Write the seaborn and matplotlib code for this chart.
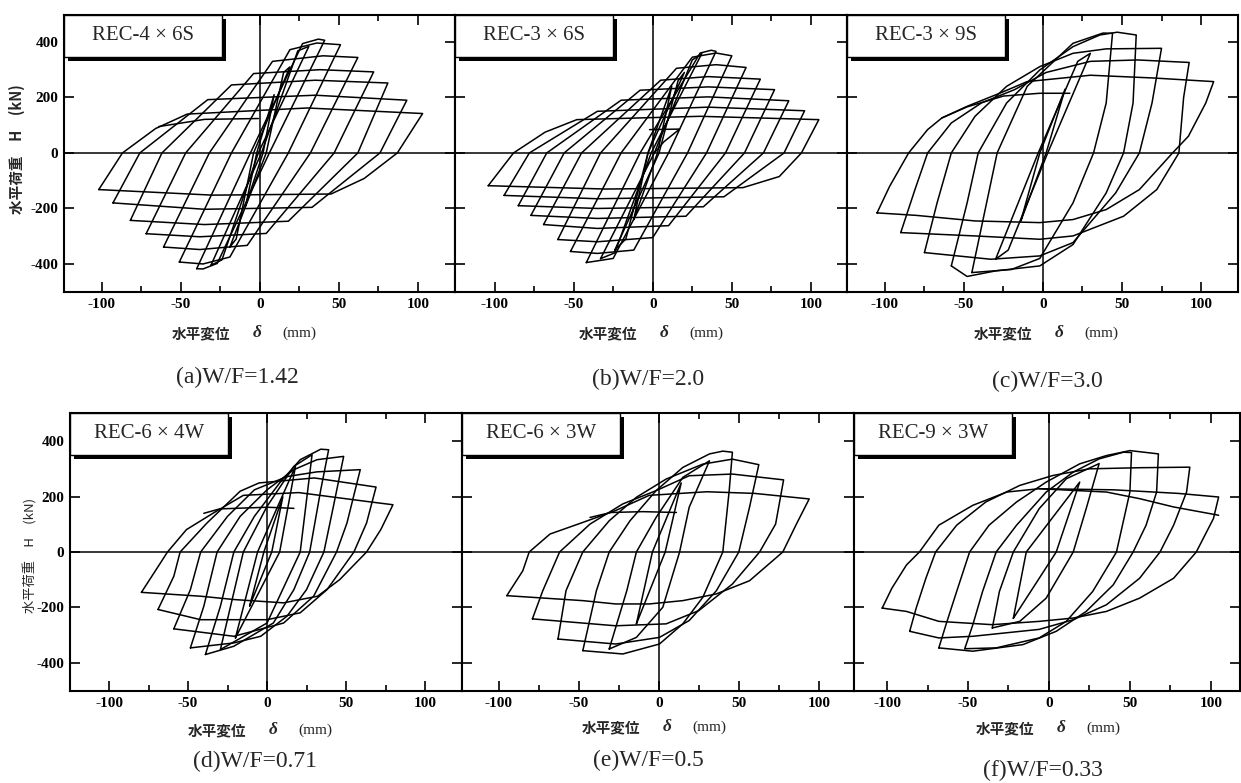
import matplotlib
matplotlib.use("Agg")
import matplotlib.pyplot as plt
import matplotlib.patheffects as pe
from matplotlib.patches import Rectangle
import pandas as pd
import seaborn as sns

# ---------------- data ----------------
# each cycle: list of (displacement mm, load kN) vertices of the loop
cycles_a = [
    [(-102,-132),(-87,0),(-66,88),(-46,140),(30,162),(103,142),(87,0),(66,-92),(45,-148),(-30,-152),(-102,-132)],
    [(-93,-180),(-76,0),(-33,192),(35,208),(93,190),(76,0),(33,-196),(-35,-203),(-93,-180)],
    [(-82,-243),(-62,0),(-18,245),(35,262),(81,252),(62,0),(18,-246),(-35,-258),(-82,-243)],
    [(-72,-291),(-47,0),(-4,286),(38,300),(72,292),(47,0),(4,-290),(-38,-302),(-72,-291)],
    [(-61,-339),(-32,0),(8,330),(40,350),(62,344),(32,0),(-8,-333),(-38,-348),(-61,-339)],
    [(-51,-393),(-18,0),(19,372),(36,396),(51,390),(18,0),(-19,-375),(-36,-400),(-51,-393)],
    [(-40,-417),(-6,0),(27,394),(37,410),(41,406),(6,0),(-27,-398),(-36,-418),(-40,-417)],
    [(-31,-405),(1,0),(24,368),(31,384),(-1,0),(-24,-385),(-31,-405)],
    [(-19,-339),(4,0),(15,290),(19,310),(-4,0),(-15,-310),(-19,-339)],
    [(-9,-190),(2,0),(9,210),(-2,0),(-9,-190)],
    [(-64,95),(-35,121),(-1,124)],
]
cycles_b = [
    [(-104,-118),(-88,0),(-68,75),(-48,120),(30,132),(105,120),(94,0),(80,-85),(57,-125),(-30,-130),(-104,-118)],
    [(-94,-153),(-78,0),(-35,150),(35,165),(96,152),(83,0),(45,-158),(-35,-165),(-94,-153)],
    [(-85,-190),(-67,0),(-20,190),(35,202),(86,188),(70,0),(32,-194),(-35,-200),(-85,-190)],
    [(-77,-225),(-56,0),(-8,226),(35,238),(77,228),(58,0),(21,-228),(-35,-236),(-77,-225)],
    [(-69,-258),(-45,0),(5,262),(35,275),(68,266),(46,0),(10,-262),(-35,-272),(-69,-258)],
    [(-60,-312),(-33,0),(15,305),(40,318),(59,308),(34,0),(0,-305),(-35,-320),(-60,-312)],
    [(-52,-355),(-20,0),(25,345),(40,360),(50,350),(22,0),(-12,-350),(-35,-362),(-52,-355)],
    [(-42,-395),(-8,0),(30,360),(37,370),(40,366),(10,0),(-25,-380),(-42,-395)],
    [(-33,-381),(1,0),(25,335),(31,358),(-1,0),(-24,-360),(-33,-381)],
    [(-24,-350),(4,0),(16,260),(20,290),(-3,0),(-17,-310),(-24,-350)],
    [(-12,-240),(3,0),(12,240),(-3,0),(-12,-240)],
    [(-2,84),(17,86),(7,40),(1,0)],
]
cycles_c = [
    [(-105,-216),(-97,-120),(-85,0),(-73,84),(-64,126),(-48,168),(-27,216),(-10,257),(30,280),(70,270),(108,257),
     (103,180),(92,60),(82,0),(61,-132),(40,-204),(19,-240),(-2,-251),(-43,-245),(-80,-225),(-105,-216)],
    [(-90,-287),(-81,-132),(-73,0),(-58,108),(-39,180),(-18,228),(2,290),(30,330),(60,335),(92.5,326),
     (89,200),(86,0),(72,-132),(51,-228),(19,-299),(-2,-311),(-43,-299),(-90,-287)],
    [(-75,-359),(-67,-180),(-58,0),(-43,132),(-23,240),(-2,311),(19,359),(40,375),(75,377),
     (69,180),(61,0),(46,-144),(19,-323),(-2,-371),(-33,-383),(-75,-359)],
    [(-58,-407),(-48,-180),(-41,0),(-23,180),(-2,299),(19,383),(36,425),(47,435),(59,425),
     (57,180),(51,0),(40,-144),(19,-330),(-2,-407),(-30,-425),(-48,-445),(-58,-407)],
    [(-45,-431),(-29,0),(-10,240),(19,395),(38,432),(44,431),(40,180),(32,0),(19,-180),(-2,-380),(-20,-420),(-45,-431)],
    [(-30,-383),(-3,0),(22,330),(30,359),(3,0),(-22,-350),(-30,-383)],
    [(-14,-245),(2,0),(14,230),(-2,0),(-14,-245)],
    [(-64,126),(-48,166),(-25,205),(-2,215),(17,215)],
]
cycles_d = [
    [(-79.5,-146),(-67.5,-40),(-63,0),(-51,81),(-34,141),(-15,205),(20,215),(63,183),(79.7,171),
     (72,81),(63,0),(46,-100),(32,-160),(10.5,-184),(-21,-172),(-42,-160),(-79.5,-146)],
    [(-69,-208),(-59,-88),(-55,0),(-38,105),(-17,220),(-5,250),(30,268),(69,235),
     (63,105),(55,0),(38,-136),(21,-220),(0,-245),(-42,-245),(-69,-208)],
    [(-59,-278),(-48.5,-136),(-42,0),(-25,129),(-8,225),(12.7,273),(31.6,290),(59,298),
     (50.6,105),(44,0),(29.5,-160),(10.5,-257),(-21,-305),(-59,-278)],
    [(-48.5,-347),(-40,-196),(-31.6,0),(-17,129),(0,225),(17,298),(31.6,334),(48.5,346),
     (42,165),(36,0),(25,-136),(12.7,-232),(-4,-305),(-21,-329),(-48.5,-347)],
    [(-39,-371),(-29.5,-196),(-21,0),(-8,129),(8,250),(21,334),(34,372),(39,370),
     (34,225),(27,0),(17,-136),(4,-257),(-21,-341),(-39,-371)],
    [(-29.5,-353),(-15,0),(0,165),(17,310),(28.5,352),(21,0),(0,-257),(-29.5,-353)],
    [(-20,-311),(-6,0),(18,310),(8,0),(-20,-311)],
    [(-11,-195),(-2,0),(10,200),(3,0),(-11,-195)],
    [(-40,140),(-30,156),(0,162),(17,158)],
]
cycles_e = [
    [(-95,-158),(-85,-68),(-81,0),(-68,65),(-47.5,107),(-27,150),(-6,205),(30,218),(60,212),(94,192),
     (86,101),(77.5,0),(56.7,-104),(35.8,-152),(15,-176),(-6,-188),(-27,-188),(-47.5,-176),(-95,-158)],
    [(-79,-242),(-72.5,-140),(-62,0),(-43,101),(-22.5,174),(-1.7,222),(19,276),(46,282),(78,261),
     (73,101),(63,0),(46,-116),(25,-212),(4.6,-260),(-27,-267),(-79,-242)],
    [(-63,-315),(-58,-140),(-47.5,0),(-31,113),(-14,198),(4.6,264),(27.5,318),(46,336),(62.5,316),
     (56.7,162),(50,0),(36,-140),(19,-248),(0.4,-309),(-27,-333),(-63,-315)],
    [(-47.5,-357),(-39,-140),(-31,0),(-18,113),(-1.7,222),(15,306),(31.7,355),(40,365),(46,361),
     (44,222),(40,0),(27.5,-164),(15,-260),(0.4,-333),(-22.5,-369),(-47.5,-357)],
    [(-31,-351),(-20,-140),(-14,0),(-1.7,125),(15,270),(31.7,330),(19,162),(13,0),(2.5,-200),(-14,-309),(-31,-351)],
    [(-14,-260),(-4,0),(14,250),(4,0),(-14,-260)],
    [(-43,125),(-30,143),(-10,146),(11,143)],
]
cycles_f = [
    [(-103,-203),(-97,-131),(-88,-47),(-80,0),(-68,97),(-47,169),(-26,217),(-6,229),(40,225),(80,212),(104.8,199),
     (101.6,121),(91,0),(77,-95),(56,-167),(35.5,-215),(15,-239),(-6,-251),(-35,-263),(-68,-251),(-88,-215),(-103,-203)],
    [(-86,-287),(-82,-203),(-76,-95),(-70,0),(-57,97),(-39,181),(-18,241),(2.5,277),(25,301),(56,305),(87,307),
     (85,217),(77,97),(68.6,0),(56,-95),(35.5,-191),(15,-245),(-6,-280),(-47,-305),(-68,-311),(-86,-287)],
    [(-68,-347),(-63.6,-263),(-57,-143),(-49,0),(-37,97),(-20,181),(-1.7,253),(19,319),(35.5,349),(50,367),(67.6,355),
     (66.5,217),(60,97),(52,0),(39.7,-119),(23,-215),(4.5,-287),(-16,-335),(-47,-359),(-68,-347)],
    [(-52,-350),(-47,-263),(-41,-143),(-32.6,0),(-20,97),(-1.7,217),(15,289),(31,337),(46,361),(51,360),
     (50,217),(41.7,0),(27,-143),(10.7,-251),(-6,-311),(-32.6,-347),(-52,-350)],
    [(-35,-275),(-30.6,-143),(-22,0),(-6,157),(10.7,265),(31,320),(23,157),(15,0),(-1.7,-167),(-18,-251),(-35,-275)],
    [(-22,-240),(-14,0),(19,253),(4.5,0),(-22,-240)],
    [(-6,229),(35.5,217),(56,193),(77,163),(104.8,133)],
]

specimens = ["REC-4 × 6S", "REC-3 × 6S", "REC-3 × 9S", "REC-6 × 4W", "REC-6 × 3W", "REC-9 × 3W"]
captions = ["(a)W/F=1.42", "(b)W/F=2.0", "(c)W/F=3.0", "(d)W/F=0.71", "(e)W/F=0.5", "(f)W/F=0.33"]
x_major = [-100, -50, 0, 50, 100]
x_minor = [-75, -25, 25, 75]
y_major = [-400, -200, 0, 200, 400]
x_ticklabels = ["-100", "-50", "0", "50", "100"]
y_ticklabels = ["-400", "-200", "0", "200", "400"]
ylabel_text = "水平荷重　H　(kN)"

all_cycles = [cycles_a, cycles_b, cycles_c, cycles_d, cycles_e, cycles_f]

# ---------------- layout ----------------
W, H = 1241, 783
sns.set_theme(style="ticks")
plt.rcParams["font.family"] = ["Liberation Serif", "Noto Sans CJK JP", "DejaVu Sans"]
plt.rcParams["axes.unicode_minus"] = False

fig = plt.figure(figsize=(W / 100, H / 100), dpi=100)
fig.patch.set_facecolor("white")

# axes boxes in pixels: left, top, right, bottom
boxes = [(64, 15, 455, 292), (455, 15, 847, 292), (847, 15, 1238, 292),
         (70, 413, 462, 691), (462, 413, 854, 691), (854, 413, 1240, 691)]
xlims = [(-124, 123.5), (-125, 122.8), (-124, 123.4), (-124.7, 123.4), (-123, 122), (-120.4, 118)]
ylims = [(-501, 497)] * 3 + [(-503, 503)] * 3
xlab_pos = [(243, 333), (650, 333), (1045, 333), (259, 730), (653, 727), (1047, 728)]
cap_pos = [(237, 377), (648, 379), (1047, 381), (255, 761), (648, 760), (1043, 770)]
box_px = (158, 42)

for i, cyc in enumerate(all_cycles):
    l, t, r, b = boxes[i]
    ax = fig.add_axes([l / W, 1 - b / H, (r - l) / W, (b - t) / H])
    ax.set_facecolor("white")
    rows = []
    for k, c in enumerate(cyc):
        for j, (xv, yv) in enumerate(c):
            rows.append({"disp": xv, "force": yv, "cycle": k, "order": j})
    df = pd.DataFrame(rows)
    ax.axhline(0, color="black", lw=1.1, zorder=1)
    ax.axvline(0, color="black", lw=1.1, zorder=1)
    sns.lineplot(data=df, x="disp", y="force", units="cycle", estimator=None, sort=False,
                 color="black", linewidth=1.1, ax=ax, legend=False, zorder=2)
    ax.set_xlim(*xlims[i])
    ax.set_ylim(*ylims[i])
    ax.set_xlabel("")
    ax.set_ylabel("")
    ax.set_xticks(x_major)
    ax.set_xticklabels(x_ticklabels)
    ax.set_xticks(x_minor, minor=True)
    ax.set_yticks(y_major)
    if i % 3 == 0:
        ax.set_yticklabels(y_ticklabels)
    else:
        ax.set_yticklabels([])
    ax.tick_params(which="both", direction="in", top=True, right=True, width=1.2, colors="black")
    ax.tick_params(which="major", length=7, labelsize=11, pad=4)
    ax.tick_params(which="minor", length=4)
    for lab in ax.get_xticklabels() + ax.get_yticklabels():
        lab.set_fontweight("bold")
        lab.set_family(["Liberation Serif"])
    for s in ax.spines.values():
        s.set_linewidth(1.5)
        s.set_color("black")

    # specimen label box with drop shadow
    bw = box_px[0] / (r - l)
    bh = box_px[1] / (b - t)
    rect = Rectangle((0, 1 - bh), bw, bh, transform=ax.transAxes, facecolor="white",
                     edgecolor="black", lw=1.0, zorder=5, clip_on=False)
    rect.set_path_effects([pe.SimplePatchShadow(offset=(3, -3), shadow_rgbFace="black", alpha=1.0),
                           pe.Normal()])
    ax.add_patch(rect)
    ax.text(bw / 2, 1 - bh / 2, specimens[i], transform=ax.transAxes, ha="center", va="center",
            fontsize=15, family=["Liberation Serif", "Noto Sans CJK JP"], zorder=6)

    # x label pieces
    cx, cy = xlab_pos[i]
    fig.text((cx - 13) / W, 1 - cy / H, "水平変位", ha="right", va="center", fontsize=10.5,
             fontweight="bold", family=["Noto Sans CJK JP"])
    fig.text((cx + 14) / W, 1 - cy / H, "δ", ha="center", va="center", fontsize=12.5,
             fontweight="bold", style="italic", family=["Liberation Serif"])
    fig.text((cx + 39) / W, 1 - cy / H, "(mm)", ha="left", va="center", fontsize=11,
             family=["Liberation Serif"])

    # caption
    px, py = cap_pos[i]
    fig.text(px / W, 1 - py / H, captions[i], ha="center", va="center", fontsize=17,
             family=["Liberation Serif"])

# y labels
fig.text(17 / W, 1 - 149 / H, ylabel_text, rotation=90, ha="center", va="center", fontsize=10.5,
         fontweight="bold", family=["Noto Sans CJK JP"])
fig.text(31 / W, 1 - 555 / H, ylabel_text, rotation=90, ha="center", va="center", fontsize=9.5,
         family=["Noto Sans CJK JP"])

fig.savefig("out.png", dpi=100, facecolor="white")
